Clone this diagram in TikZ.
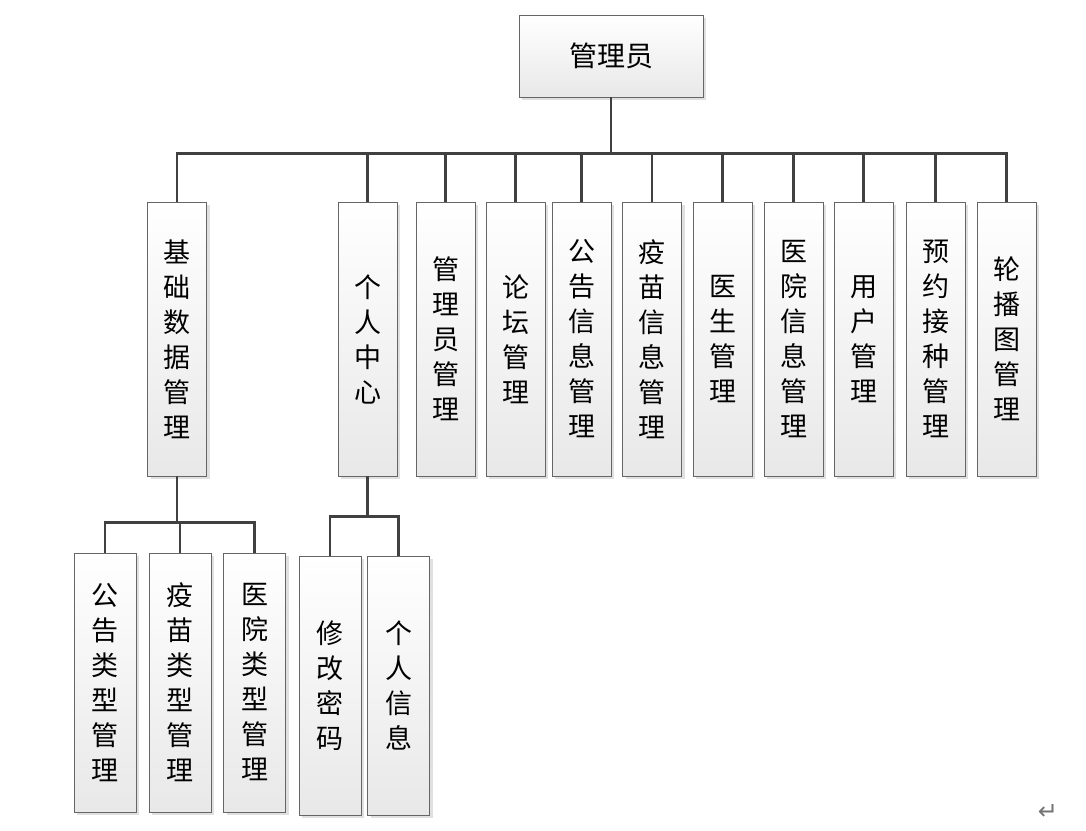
\documentclass[tikz,border=0pt]{standalone}
\usepackage{fontspec}
\usepackage{tikz}
\usetikzlibrary{shadows}
\newfontfamily\cjk{Noto Sans CJK SC}
\newfontfamily\symfont{DejaVu Sans}

\tikzset{
  box/.style={draw=black!60, line width=0.9pt, top color=white, bottom color=black!9,
    drop shadow={shadow xshift=3pt, shadow yshift=-3pt, fill=black!12, opacity=1},
    inner sep=0pt, align=center, font=\cjk\fontsize{27}{35}\selectfont},
  mainbox/.style={box, minimum width=59pt, minimum height=274pt},
  subbox/.style={box, minimum width=62pt, minimum height=259pt},
  conn/.style={draw=black!75, line width=2.2pt}
}

\begin{document}
\begin{tikzpicture}[x=1pt,y=-1pt]
  \useasboundingbox (0,0) rectangle (1086,830);
  % root
  \node[box, minimum width=184pt, minimum height=82pt, font=\cjk\fontsize{28}{34}\selectfont] (root) at (611,56) {管理员};
  % second level
  \node[mainbox] (jcsj) at (177,339) {基\\础\\数\\据\\管\\理};
  \node[mainbox] (grzx) at (367.5,339) {个\\人\\中\\心};
  \node[mainbox] (glygl) at (445.5,339) {管\\理\\员\\管\\理};
  \node[mainbox] (ltgl) at (515.5,339) {论\\坛\\管\\理};
  \node[mainbox] (ggxx) at (581.5,339) {公\\告\\信\\息\\管\\理};
  \node[mainbox] (ymxx) at (652,339) {疫\\苗\\信\\息\\管\\理};
  \node[mainbox] (ysgl) at (722.5,339) {医\\生\\管\\理};
  \node[mainbox] (yyxx) at (793.5,339) {医\\院\\信\\息\\管\\理};
  \node[mainbox] (yhgl) at (863.5,339) {用\\户\\管\\理};
  \node[mainbox] (yyjz) at (935.5,339) {预\\约\\接\\种\\管\\理};
  \node[mainbox] (lbtgl) at (1006.5,339) {轮\\播\\图\\管\\理};
  % third level
  \node[subbox] (gglx) at (105,682.5) {公\\告\\类\\型\\管\\理};
  \node[subbox] (ymlx) at (180,682.5) {疫\\苗\\类\\型\\管\\理};
  \node[subbox] (yylx) at (254.5,682.5) {医\\院\\类\\型\\管\\理};
  \node[subbox] (xgmm) at (330,685.5) {修\\改\\密\\码};
  \node[subbox] (grxx) at (398.5,685.5) {个\\人\\信\\息};

  % connectors
  \foreach \n in {jcsj,grzx,glygl,ltgl,ggxx,ymxx,ysgl,yyxx,yhgl,yyjz,lbtgl}
    \draw[conn] (root.south) -- ++(0,56) -| (\n.north);
  \foreach \n in {gglx,ymlx,yylx}
    \draw[conn] (jcsj.south) -- ++(0,46) -| (\n.north);
  \foreach \n in {xgmm,grxx}
    \draw[conn] (grzx.south) -- ++(0,40) -| (\n.north);

  \node[text=black!55, font=\symfont\fontsize{24}{24}\selectfont] (mark) at (1048,812) {↵};
\end{tikzpicture}
\end{document}
